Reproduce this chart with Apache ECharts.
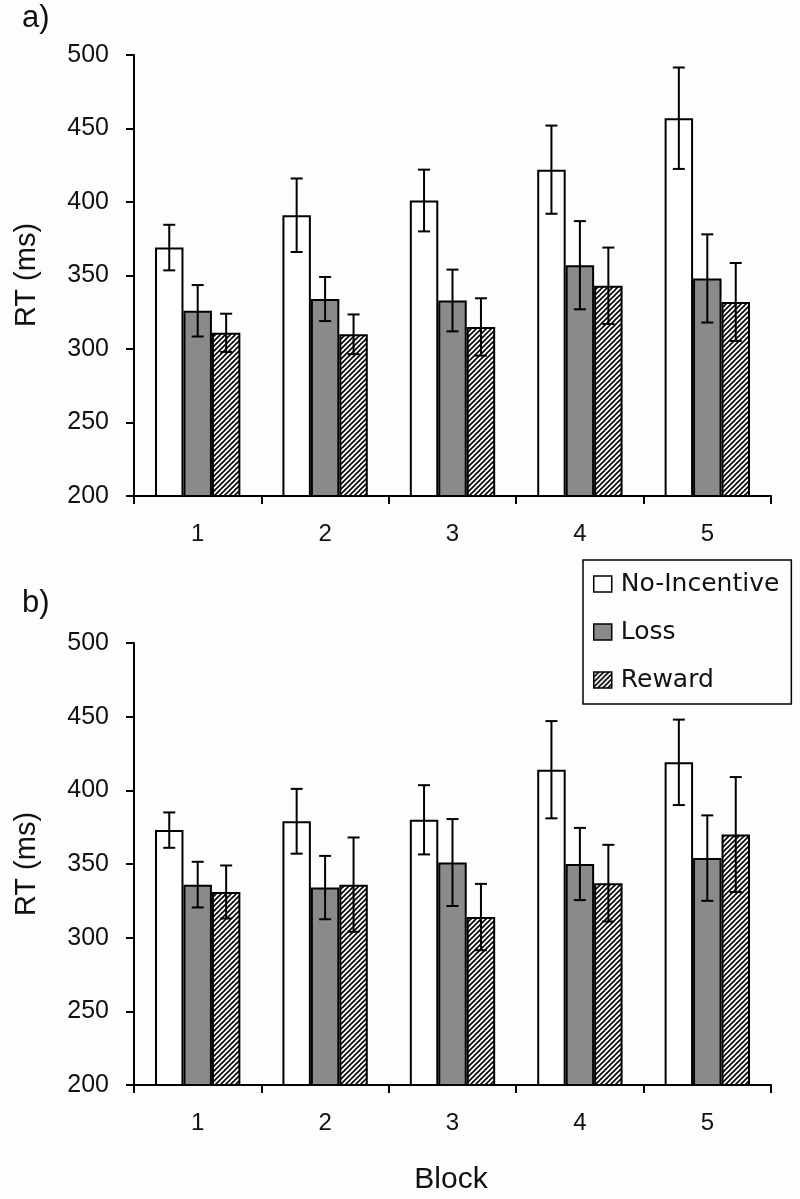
<!DOCTYPE html>
<html>
<head>
<meta charset="utf-8">
<script src="https://cdn.jsdelivr.net/npm/echarts@6/dist/echarts.min.js"></script>
<style>
html,body{margin:0;padding:0;background:#fdfdfd;}
#chart{width:800px;height:1199px;}
</style>
</head>
<body>
<div id="chart"></div>
<script>
// ---- data ----
const categories = ['1', '2', '3', '4', '5'];
const seriesNames = ['No-Incentive', 'Loss', 'Reward'];
// panel a
const aNoIncentive    = [369, 391, 401, 422, 457];
const aNoIncentiveErr = [15.5, 25, 21, 30, 34.5];
const aLoss           = [326, 334, 333, 357, 348];
const aLossErr        = [17.5, 15, 21, 30, 30];
const aReward         = [311, 310, 315, 343, 332];
const aRewardErr      = [13, 13.5, 19.5, 26, 26.5];
// panel b
const bNoIncentive    = [373, 379, 380, 414, 419];
const bNoIncentiveErr = [12, 22, 23.5, 33, 29];
const bLoss           = [336, 334, 351, 350, 354];
const bLossErr        = [15.5, 21.5, 29.5, 24.5, 29];
const bReward         = [331, 336, 314, 337, 370];
const bRewardErr      = [18, 32, 22.5, 26, 39];
const yMin = 200, yMax = 500, yStep = 50;

// ---- hatch pattern ----
function makeHatch() {
  const s = 5;
  const c = document.createElement('canvas');
  c.width = s; c.height = s;
  const g = c.getContext('2d');
  g.fillStyle = '#ffffff';
  g.fillRect(0, 0, s, s);
  g.strokeStyle = '#000000';
  g.lineWidth = 1.6;
  for (let k = -1; k <= 1; k++) {
    g.beginPath();
    g.moveTo(k * s - 1, s + 1);
    g.lineTo(k * s + s + 1, -1);
    g.stroke();
  }
  return c;
}
const hatch = { image: makeHatch(), repeat: 'repeat' };
const fills = ['#ffffff', '#8a8a8a', hatch];

const GAP = 0.33;
function errRender(idx) {
  return function (params, api) {
    const x = api.value(0), v = api.value(1), e = api.value(2);
    const top = api.coord([x, v + e]);
    const bot = api.coord([x, v - e]);
    const band = api.size([1, 0])[0];
    const bw = band * (1 - GAP) / 3;
    const cx = top[0] + (idx - 1) * bw;
    const cap = 6;
    const st = { stroke: '#000', lineWidth: 2 };
    return {
      type: 'group',
      children: [
        { type: 'line', shape: { x1: cx, y1: top[1], x2: cx, y2: bot[1] }, style: st },
        { type: 'line', shape: { x1: cx - cap, y1: top[1], x2: cx + cap, y2: top[1] }, style: st },
        { type: 'line', shape: { x1: cx - cap, y1: bot[1], x2: cx + cap, y2: bot[1] }, style: st }
      ]
    };
  };
}

const panels = [
  { vals: [aNoIncentive, aLoss, aReward], errs: [aNoIncentiveErr, aLossErr, aRewardErr] },
  { vals: [bNoIncentive, bLoss, bReward], errs: [bNoIncentiveErr, bLossErr, bRewardErr] }
];

const series = [];
panels.forEach((p, pi) => {
  seriesNames.forEach((name, si) => {
    series.push({
      name: name,
      type: 'bar',
      xAxisIndex: pi, yAxisIndex: pi,
      data: p.vals[si],
      barGap: '0%',
      barCategoryGap: (GAP * 100) + '%',
      itemStyle: { color: fills[si], borderColor: '#000', borderWidth: 2 },
      emphasis: { disabled: true },
      animation: false
    });
  });
  seriesNames.forEach((name, si) => {
    series.push({
      type: 'custom',
      xAxisIndex: pi, yAxisIndex: pi,
      renderItem: errRender(si),
      encode: { x: 0, y: 1 },
      data: p.vals[si].map((v, i) => [i, v, p.errs[si][i]]),
      z: 5,
      silent: true,
      animation: false
    });
  });
});

const axisFont = 'Liberation Sans, Arial, sans-serif';
function xAxisCfg(gi) {
  return {
    type: 'category', gridIndex: gi, data: categories, boundaryGap: true,
    axisLine: { lineStyle: { color: '#000', width: 2 } },
    axisTick: { show: true, length: 8, alignWithLabel: false, lineStyle: { color: '#000', width: 2 } },
    axisLabel: { color: '#111', fontSize: 24, fontFamily: axisFont, margin: 26 }
  };
}
function yAxisCfg(gi) {
  return {
    type: 'value', gridIndex: gi, min: yMin, max: yMax, interval: yStep,
    splitLine: { show: false },
    axisLine: { show: true, lineStyle: { color: '#000', width: 2 } },
    axisTick: { show: true, length: 8, lineStyle: { color: '#000', width: 2 } },
    axisLabel: { color: '#111', fontSize: 25, fontFamily: axisFont, margin: 25 }
  };
}

const chart = echarts.init(document.getElementById('chart'), null, { renderer: 'canvas' });
chart.setOption({
  backgroundColor: '#fdfdfd',
  animation: false,
  grid: [
    { left: 134, right: 29, top: 55, height: 441 },
    { left: 134, right: 29, top: 643, height: 442 }
  ],
  xAxis: [xAxisCfg(0), xAxisCfg(1)],
  yAxis: [yAxisCfg(0), yAxisCfg(1)],
  legend: {
    data: seriesNames,
    orient: 'vertical',
    left: 583, top: 560,
    padding: [10, 12, 10, 10],
    itemGap: 20,
    itemWidth: 18, itemHeight: 16,
    icon: 'rect',
    borderColor: '#000', borderWidth: 1.5,
    backgroundColor: '#fdfdfd',
    selectedMode: false,
    itemStyle: { borderColor: '#000', borderWidth: 1.5 },
    textStyle: { fontSize: 25, fontFamily: 'DejaVu Sans, sans-serif', color: '#111', lineHeight: 28, padding: [0, 0, 0, 4] }
  },
  graphic: [
    { type: 'text', left: 22, top: 3, style: { text: 'a)', fontSize: 31, fontFamily: axisFont, fill: '#111' } },
    { type: 'text', left: 22, top: 588, style: { text: 'b)', fontSize: 31, fontFamily: axisFont, fill: '#111' } },
    { type: 'text', x: 27, y: 275, rotation: Math.PI / 2,
      style: { text: 'RT (ms)', fontSize: 29, fontFamily: axisFont, fill: '#111', align: 'center', verticalAlign: 'middle' } },
    { type: 'text', x: 27, y: 864, rotation: Math.PI / 2,
      style: { text: 'RT (ms)', fontSize: 29, fontFamily: axisFont, fill: '#111', align: 'center', verticalAlign: 'middle' } },
    { type: 'text', x: 451, y: 1180,
      style: { text: 'Block', fontSize: 30, fontFamily: axisFont, fill: '#111', align: 'center', verticalAlign: 'middle' } }
  ],
  series: series
});
</script>
</body>
</html>
